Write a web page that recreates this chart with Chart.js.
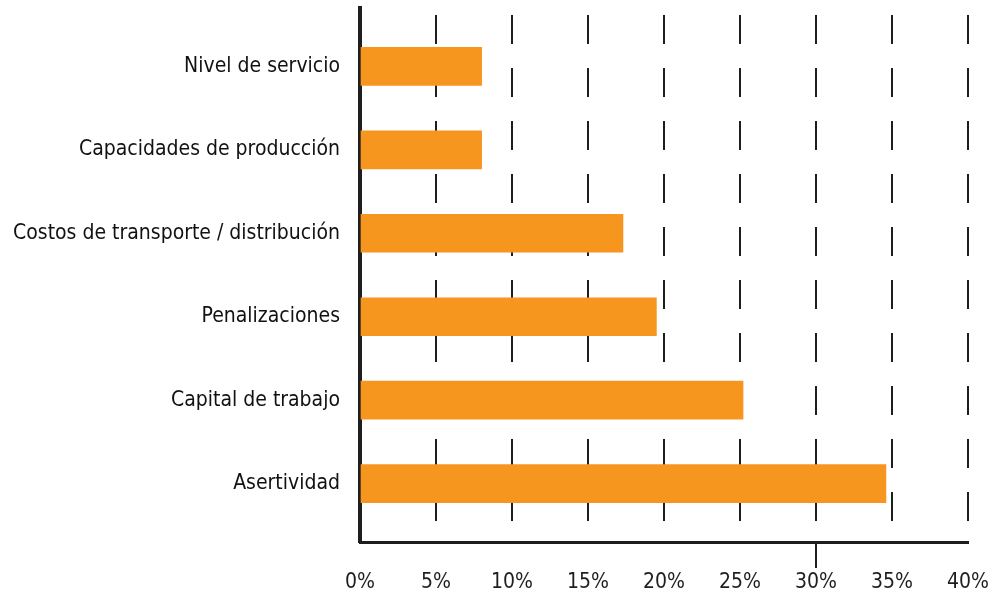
<!DOCTYPE html>
<html>
<head>
<meta charset="utf-8">
<script src="https://cdn.jsdelivr.net/npm/chart.js@4/dist/chart.umd.min.js"></script>
<style>
  html, body { margin: 0; padding: 0; background: #ffffff; }
  #wrap { width: 996px; height: 597px; }
</style>
</head>
<body>
<div id="wrap"><canvas id="chart" width="996" height="597"></canvas></div>
<script>
// Categories, top to bottom
const categories = [
  'Nivel de servicio',
  'Capacidades de producción',
  'Costos de transporte / distribución',
  'Penalizaciones',
  'Capital de trabajo',
  'Asertividad'
];
// Share of responses (%)
const values = [8, 8, 17.3, 19.5, 25.2, 34.6];
// Percentage tick values on the horizontal axis
const xTicks = [0, 5, 10, 15, 20, 25, 30, 35, 40];

const FONT = '"Liberation Sans Narrow", "DejaVu Sans Condensed", "Roboto", sans-serif';
const INK = '#1e1e1e';

new Chart(document.getElementById('chart'), {
  type: 'bar',
  data: {
    datasets: [{
      data: categories.map((c, i) => ({ x: values[i], y: i })),
      backgroundColor: '#f7961f',
      borderWidth: 0,
      barThickness: 38
    }]
  },
  options: {
    indexAxis: 'y',
    responsive: false,
    animation: false,
    layout: { padding: { top: 8, right: 28, left: 10, bottom: 0 } },
    plugins: { legend: { display: false }, tooltip: { enabled: false } },
    scales: {
      x: {
        type: 'linear',
        min: 0,
        max: 40,
        afterBuildTicks: s => { s.ticks = xTicks.map(v => ({ value: v })); },
        afterFit: s => { s.height = 55; },
        // axis line solid; border.dash styles the vertical grid lines
        border: { display: true, color: INK, width: 3, dash: [29, 24], dashOffset: 46 },
        grid: {
          color: INK,
          lineWidth: 2,
          drawTicks: true,
          tickLength: 26,
          tickBorderDash: [],
          tickColor: ctx => (ctx.tick && ctx.tick.value === 30) ? INK : 'rgba(0,0,0,0)'
        },
        ticks: {
          padding: 2,
          color: INK,
          font: { family: FONT, size: 21 },
          callback: v => v + '%'
        }
      },
      y: {
        type: 'linear',
        reverse: true,
        offset: false,
        min: -0.7,
        max: 5.7,
        z: 1,
        afterBuildTicks: s => { s.ticks = categories.map((c, i) => ({ value: i })); },
        afterFit: s => { s.width = 350; s.paddingTop = 0; s.paddingBottom = 0; },
        border: { display: true, color: INK, width: 4 },
        grid: { display: false, drawTicks: false },
        ticks: {
          padding: 20,
          color: '#111',
          font: { family: FONT, size: 21 },
          callback: v => categories[v]
        }
      }
    }
  }
});
</script>
</body>
</html>
